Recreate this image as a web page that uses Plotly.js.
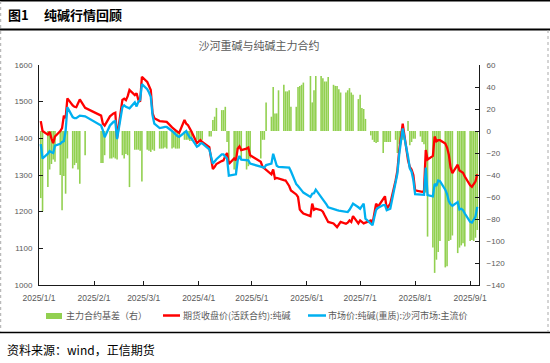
<!DOCTYPE html>
<html>
<head>
<meta charset="utf-8">
<script src="https://cdn.plot.ly/plotly-3.0.1.min.js"></script>
<style>html,body{margin:0;padding:0;background:#fff;}#chart{width:550px;height:363px;}</style>
</head>
<body>
<div id="chart"></div>
<script>
// Trading days (M/D, 2025)
const dayLabels = [
 '1/2','1/3','1/6','1/7','1/8','1/9','1/10','1/13','1/14','1/15','1/16','1/17','1/20','1/21','1/22','1/23','1/24','1/27',
 '2/5','2/6','2/7','2/10','2/11','2/12','2/13','2/14','2/17','2/18','2/19','2/20','2/21','2/24','2/25','2/26','2/27','2/28',
 '3/3','3/4','3/5','3/6','3/7','3/10','3/11','3/12','3/13','3/14','3/17','3/18','3/19','3/20','3/21','3/24','3/25','3/26','3/27','3/28','3/31',
 '4/1','4/2','4/3','4/7','4/8','4/9','4/10','4/11','4/14','4/15','4/16','4/17','4/18','4/21','4/22','4/23','4/24','4/25','4/28','4/29','4/30',
 '5/6','5/7','5/8','5/9','5/12','5/13','5/14','5/15','5/16','5/19','5/20','5/21','5/22','5/23','5/26','5/27','5/28','5/29','5/30',
 '6/3','6/4','6/5','6/6','6/9','6/10','6/11','6/12','6/13','6/16','6/17','6/18','6/19','6/20','6/23','6/24','6/25','6/26','6/27','6/30',
 '7/1','7/2','7/3','7/4','7/7','7/8','7/9','7/10','7/11','7/14','7/15','7/16','7/17','7/18','7/21','7/22','7/23','7/24','7/25','7/28','7/29','7/30','7/31',
 '8/1','8/4','8/5','8/6','8/7','8/8','8/11','8/12','8/13','8/14','8/15','8/18','8/19','8/20','8/21','8/22','8/25','8/26','8/27','8/28','8/29',
 '9/1','9/2','9/3','9/4','9/5'
];

// 期货收盘价(活跃合约):纯碱
const futures = [
 1447,1420,1410,1418,1400,1387,1405,1420,1428,1462,1455,1509,1490,1486,1485,1495,1506,1483,
 1462,1440,1435,1460,1465,1468,1470,1401,1505,1508,1504,1515,1532,1518,1523,1505,1500,1568,
 1554,1545,1532,1469,1455,1447,1447,1447,1446,1445,1430,1427,1422,1418,1415,1450,1440,1436,1425,1418,1387,
 1390,1395,1390,1376,1345,1316,1322,1330,1338,1340,1352,1360,1330,1345,1340,1372,1378,1368,1372,1375,1354,
 1336,1322,1318,1313,1302,1315,1290,1292,1290,1286,1285,1277,1270,1258,1247,1240,1206,1200,1195,
 1188,1222,1205,1208,1204,1200,1190,1182,1172,1168,1162,1158,1165,1172,1167,1170,1176,1172,1188,1168,
 1176,1172,1168,1170,1176,1168,1195,1222,1213,1235,1242,1208,1215,1222,1285,1312,1365,1400,1440,1340,1322,1315,1300,
 1258,1254,1254,1256,1368,1342,1352,1405,1392,1395,1395,1386,1375,1355,1320,1305,1328,1312,1310,1306,1296,
 1272,1268,1277,1282,1302
];

// 市场价:纯碱(重质):沙河市场:主流价
const spot = [
 1384,1345,1358,1365,1362,1360,1380,1385,1390,1392,1420,1485,1458,1455,1455,1458,1462,1460,
 1435,1422,1403,1435,1440,1445,1447,1398,1485,1490,1486,1483,1482,1498,1487,1500,1505,1548,
 1534,1525,1513,1463,1440,1428,1428,1430,1431,1431,1420,1415,1409,1406,1404,1418,1420,1410,1402,1400,1377,
 1380,1386,1386,1370,1350,1331,1337,1343,1356,1356,1350,1345,1298,1300,1302,1340,1352,1342,1340,1340,1331,
 1322,1320,1320,1327,1331,1358,1340,1325,1322,1322,1322,1320,1320,1310,1275,1270,1262,1258,1252,
 1240,1249,1250,1260,1240,1236,1228,1220,1212,1206,1205,1204,1203,1202,1200,1199,1205,1212,1222,1212,
 1208,1215,1222,1181,1166,1163,1185,1205,1210,1218,1218,1204,1206,1208,1280,1304,1355,1390,1427,1350,1318,1309,1286,
 1248,1248,1248,1246,1320,1245,1242,1276,1270,1285,1283,1260,1248,1228,1220,1216,1226,1206,1208,1204,1195,
 1172,1170,1178,1186,1213
];

// 主力合约基差（右）
const basis = [
 -61,-73,-51,-35,-30,-26,-28,-40,-72,-41,-57,-25,-34,-31,-29,-35,-48,-22,
 -29,-29,-22,-25,-25,-24,-25,-26,-22,-25,-21,-22,-51,-17,-17,-17,-18,-46,
 -17,-18,-19,-17,-18,-16,-16,-16,-15,-16,-16,-15,-16,-16,-16,-8,-8,-8,-9,-9,-8,
 -10,-9,-8,-5,-5,10,13,21,19,19,22,-10,-30,-35,-40,-15,-13,-26,-35,-32,-25,
 -25,-8,-8,26,13,40,16,16,37,42,36,36,37,22,22,40,41,42,44,
 50,26,37,50,50,48,45,45,49,42,41,41,38,35,35,37,39,35,33,29,
 33,21,20,11,-4,-8,-10,-11,-10,-20,-10,-10,-10,-10,-8,-20,-12,-6,-8,9,-13,-10,-7,
 -7,-5,-10,-12,-56,-96,-106,-129,-117,-110,-100,-124,-123,-100,-99,-95,-111,-106,-104,-102,-105,
 -100,-99,-100,-97,-90
];

const seriesNames = ['主力合约基差（右）', '期货收盘价(活跃合约):纯碱', '市场价:纯碱(重质):沙河市场:主流价'];
const chartTitle = '沙河重碱与纯碱主力合约';
const figLabel = '图1';
const figTitle = '纯碱行情回顾';
const sourceText = '资料来源：wind，正信期货';

const dates = dayLabels.map(s => {
  const [m, d] = s.split('/');
  return '2025-' + m.padStart(2, '0') + '-' + d.padStart(2, '0');
});

const W = 550, H = 363;
const M = {l: 39, r: 71, t: 65, b: 78};
const PW = W - M.l - M.r, PH = H - M.t - M.b;
const px = x => (x - M.l) / PW;
const py = y => (H - M.b - y) / PH;

const FONT = 'Liberation Sans, Arial, Noto Sans CJK SC, sans-serif';
const CJK = 'Noto Sans CJK SC, Liberation Sans, sans-serif';
const GRAY = '#595959';
const C_BAR = '#92D050', C_RED = '#FF0000', C_BLUE = '#00B0F0';

const traces = [
  {type: 'bar', x: dates, y: basis, name: seriesNames[0], marker: {color: C_BAR, line: {width: 0}}, yaxis: 'y', hoverinfo: 'x+y'},
  {type: 'scatter', mode: 'lines', x: dates, y: futures, name: seriesNames[1], line: {color: C_RED, width: 2.3}, yaxis: 'y2'},
  {type: 'scatter', mode: 'lines', x: dates, y: spot, name: seriesNames[2], line: {color: C_BLUE, width: 2.3}, yaxis: 'y2'}
];

const axisCommon = {
  showgrid: false, zeroline: false, showline: true, linecolor: '#1a1a1a', linewidth: 1,
  ticks: 'inside', ticklen: 4, tickcolor: '#1a1a1a', tickfont: {family: FONT, size: 8, color: GRAY}
};

const shapes = [
  {type: 'line', xref: 'paper', yref: 'paper', x0: px(0), x1: px(550), y0: py(0.8), y1: py(0.8), line: {color: '#000', width: 1.5}},
  {type: 'line', xref: 'paper', yref: 'paper', x0: px(0), x1: px(550), y0: py(29.5), y1: py(29.5), line: {color: '#000', width: 1.8}},
  {type: 'line', xref: 'paper', yref: 'paper', x0: px(0), x1: px(550), y0: py(332.5), y1: py(332.5), line: {color: '#000', width: 1.5}},
  {type: 'line', xref: 'paper', yref: 'paper', x0: px(0.7), x1: px(0.7), y0: py(1), y1: py(332), line: {color: '#AAAAAA', width: 1, dash: 'dot'}},
  {type: 'line', xref: 'paper', yref: 'paper', x0: px(548), x1: px(548), y0: py(30), y1: py(332), line: {color: '#AAAAAA', width: 1, dash: 'dot'}},
  {type: 'rect', xref: 'paper', yref: 'paper', x0: px(46), x1: px(62), y0: py(319), y1: py(313), fillcolor: C_BAR, line: {width: 0}},
  {type: 'line', xref: 'paper', yref: 'paper', x0: px(163), x1: px(180), y0: py(315.5), y1: py(315.5), line: {color: C_RED, width: 2.5}},
  {type: 'line', xref: 'paper', yref: 'paper', x0: px(308), x1: px(326), y0: py(315.5), y1: py(315.5), line: {color: C_BLUE, width: 2.5}}
];

function ann(text, x, y, size, color, family) {
  return {text: text, xref: 'paper', yref: 'paper', x: px(x), y: py(y), xanchor: 'left', yanchor: 'middle',
          showarrow: false, font: {family: family || CJK, size: size, color: color}};
}

const annotations = [
  ann('<b>' + figLabel + '</b>', 6, 15, 13, '#000'),
  ann('<b>' + figTitle + '</b>', 42, 15, 13, '#000'),
  ann(sourceText, 5, 349, 12, '#000'),
  ann(seriesNames[0], 64, 315.5, 9, GRAY),
  ann(seriesNames[1], 181, 315.5, 9, GRAY),
  ann(seriesNames[2], 326, 315.5, 9, GRAY)
];

const layout = {
  width: W, height: H, margin: M, paper_bgcolor: '#fff', plot_bgcolor: '#fff',
  showlegend: false, bargap: 0.1,
  title: {text: chartTitle, x: px(259), xref: 'paper', xanchor: 'center', y: 1 - 46.5 / H, yref: 'container', yanchor: 'middle',
          font: {family: CJK, size: 11, color: GRAY}},
  xaxis: Object.assign({}, axisCommon, {
    type: 'date', range: ['2025-01-01', '2025-09-06'], tick0: '2025-01-01', dtick: 'M1',
    tickformat: '%Y/%-m/%-d', tickfont: {family: FONT, size: 8.5, color: GRAY}, ticklabelstandoff: 5
  }),
  yaxis: Object.assign({}, axisCommon, {side: 'right', range: [-140, 60], dtick: 20, ticklabelstandoff: 5}),
  yaxis2: Object.assign({}, axisCommon, {overlaying: 'y', side: 'left', range: [1000, 1600], dtick: 100, ticklabelstandoff: 4}),
  shapes: shapes, annotations: annotations
};

Plotly.newPlot('chart', traces, layout, {displayModeBar: false, staticPlot: true});
</script>
</body>
</html>
